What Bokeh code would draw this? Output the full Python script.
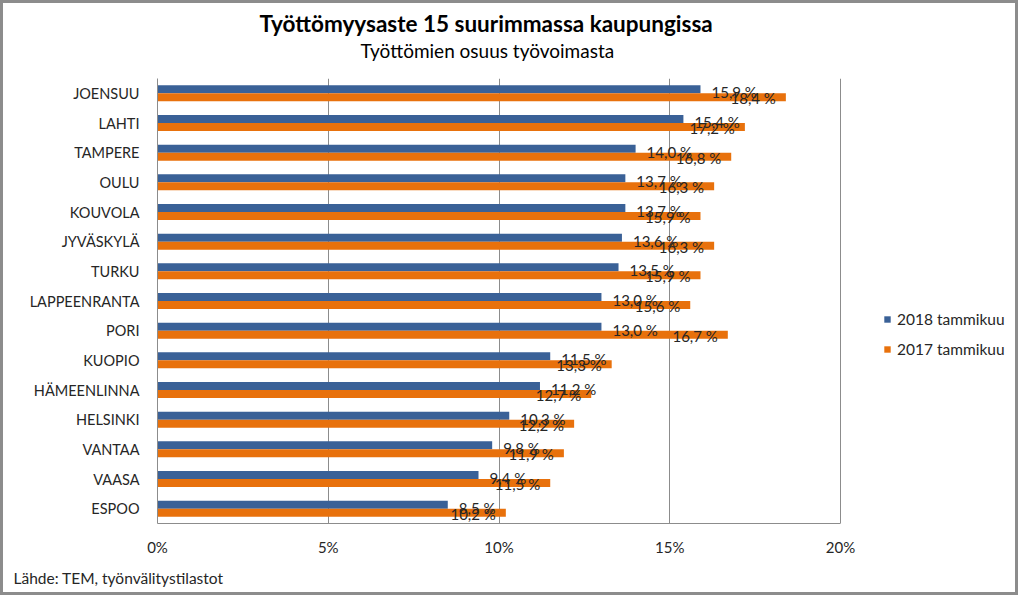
from bokeh.plotting import figure
from bokeh.models import (ColumnDataSource, Range1d, FixedTicker, PrintfTickFormatter,
                          Title, Legend, LegendItem)
from bokeh.transform import dodge
from bokeh.core.properties import value
from bokeh.embed import file_html
from bokeh.resources import INLINE

# ---- data ----
cities = ["JOENSUU", "LAHTI", "TAMPERE", "OULU", "KOUVOLA", "JYVÄSKYLÄ", "TURKU",
          "LAPPEENRANTA", "PORI", "KUOPIO", "HÄMEENLINNA", "HELSINKI", "VANTAA",
          "VAASA", "ESPOO"]
rate_2018 = [15.9, 15.4, 14.0, 13.7, 13.7, 13.6, 13.5, 13.0, 13.0, 11.5, 11.2, 10.3, 9.8, 9.4, 8.5]
rate_2017 = [18.4, 17.2, 16.8, 16.3, 15.9, 16.3, 15.9, 15.6, 16.7, 13.3, 12.7, 12.2, 11.9, 11.5, 10.2]
x_ticks = [0, 5, 10, 15, 20]
series_labels = ["2018 tammikuu", "2017 tammikuu"]
title_text = "Työttömyysaste 15 suurimmassa kaupungissa"
subtitle_text = "Työttömien osuus työvoimasta"
source_text = "Lähde: TEM, työnvälitystilastot"

FONT = "Lato"
BLUE = "#3A6197"
ORANGE = "#E8710C"
GRID = "#8c8c8c"
TXT = "#262626"

# layout: the canvas (1018 x 595) sits inside a 3px CSS border -> 1024 x 601 page
CW, CH = 1018, 595
FRAME_L, FRAME_T, FRAME_B = 154, 75, 521
AXIS_END_PX = 837          # where 20 % sits
frame_w = CW - FRAME_L
x_end = x_ticks[-1] * frame_w / (AXIS_END_PX - FRAME_L)


def fmt(v):
    return f"{v:.1f} %".replace(".", ",")


idx = list(range(len(cities)))
src = ColumnDataSource(dict(
    idx=idx, city=cities, r18=rate_2018, r17=rate_2017,
    l18=[fmt(v) for v in rate_2018], l17=[fmt(v) for v in rate_2017],
))

p = figure(width=CW, height=CH, output_backend="svg", toolbar_location=None,
           x_range=Range1d(0, x_end), y_range=Range1d(len(cities) - 0.5, -0.5),
           min_border_left=FRAME_L, min_border_right=0, min_border_top=FRAME_T,
           min_border_bottom=CH - FRAME_B)
p.styles = {"border": "3px solid #8c8c8c"}
p.outline_line_color = None
p.background_fill_color = "white"
p.border_fill_color = "white"

OFF = 0.135
BH = 0.27
r18 = p.hbar(y=dodge("idx", -OFF, range=p.y_range), right="r18", left=0, height=BH,
             source=src, fill_color=BLUE, line_color=None)
r17 = p.hbar(y=dodge("idx", OFF, range=p.y_range), right="r17", left=0, height=BH,
             source=src, fill_color=ORANGE, line_color=None)

p.text(x="r18", y=dodge("idx", -OFF, range=p.y_range), text="l18", source=src,
       x_offset=11, y_offset=3, text_align="left", text_baseline="middle",
       text_font=value(FONT), text_font_size="15px", text_color=TXT)
p.text(x="r17", y=dodge("idx", OFF, range=p.y_range), text="l17", source=src,
       x_offset=-10, y_offset=1, text_align="right", text_baseline="middle",
       text_font=value(FONT), text_font_size="15px", text_color=TXT)

# grid
p.xgrid.ticker = FixedTicker(ticks=x_ticks)
p.xgrid.grid_line_color = GRID
p.ygrid.grid_line_color = None

# axes
p.xaxis.ticker = FixedTicker(ticks=x_ticks)
p.xaxis.bounds = (x_ticks[0], x_ticks[-1])
p.xaxis.formatter = PrintfTickFormatter(format="%d%%")
p.xaxis.axis_line_color = GRID
p.xaxis.major_tick_line_color = None
p.xaxis.minor_tick_line_color = None
p.xaxis.major_label_standoff = 8
p.xaxis.major_label_text_font = FONT
p.xaxis.major_label_text_font_size = "15px"
p.xaxis.major_label_text_color = TXT

p.yaxis.ticker = FixedTicker(ticks=idx)
p.yaxis.major_label_overrides = {i: c for i, c in enumerate(cities)}
p.yaxis.axis_line_color = GRID
p.yaxis.major_tick_line_color = None
p.yaxis.minor_tick_line_color = None
p.yaxis.major_label_standoff = 12
p.yaxis.major_label_text_font = FONT
p.yaxis.major_label_text_font_size = "14.5px"
p.yaxis.major_label_text_color = TXT

# legend (inside the widened frame, to the right of the 20 % line)
legend = Legend(items=[LegendItem(label=series_labels[0], renderers=[r18]),
                       LegendItem(label=series_labels[1], renderers=[r17])],
                location=(726, 164), orientation="vertical",
                label_text_font=FONT, label_text_font_size="15.5px", label_text_color=TXT,
                glyph_width=8, glyph_height=8, label_height=20, label_standoff=6,
                spacing=10, padding=0, margin=0,
                border_line_color=None, background_fill_alpha=0)
p.add_layout(legend, "center")

# titles (subtitle carries an empty second line to lift it off the frame)
p.add_layout(Title(text=subtitle_text + "\n\u00a0", align="left", offset=203,
                   text_font=FONT, text_font_style="normal", text_font_size="19px",
                   text_line_height=0.72, text_color="#000000", standoff=0,
                   vertical_align="bottom"), "above")
p.add_layout(Title(text=title_text, align="left", offset=102, text_font=FONT,
                   text_font_style="bold", text_font_size="22.5px",
                   text_color="#000000", standoff=0, vertical_align="bottom"), "above")
p.add_layout(Title(text=source_text, align="left", offset=13 - 157, text_font=FONT,
                   text_font_style="normal", text_font_size="15.5px",
                   text_color=TXT, standoff=20, vertical_align="top"), "below")

open("out.html", "w").write(file_html(p, INLINE))
